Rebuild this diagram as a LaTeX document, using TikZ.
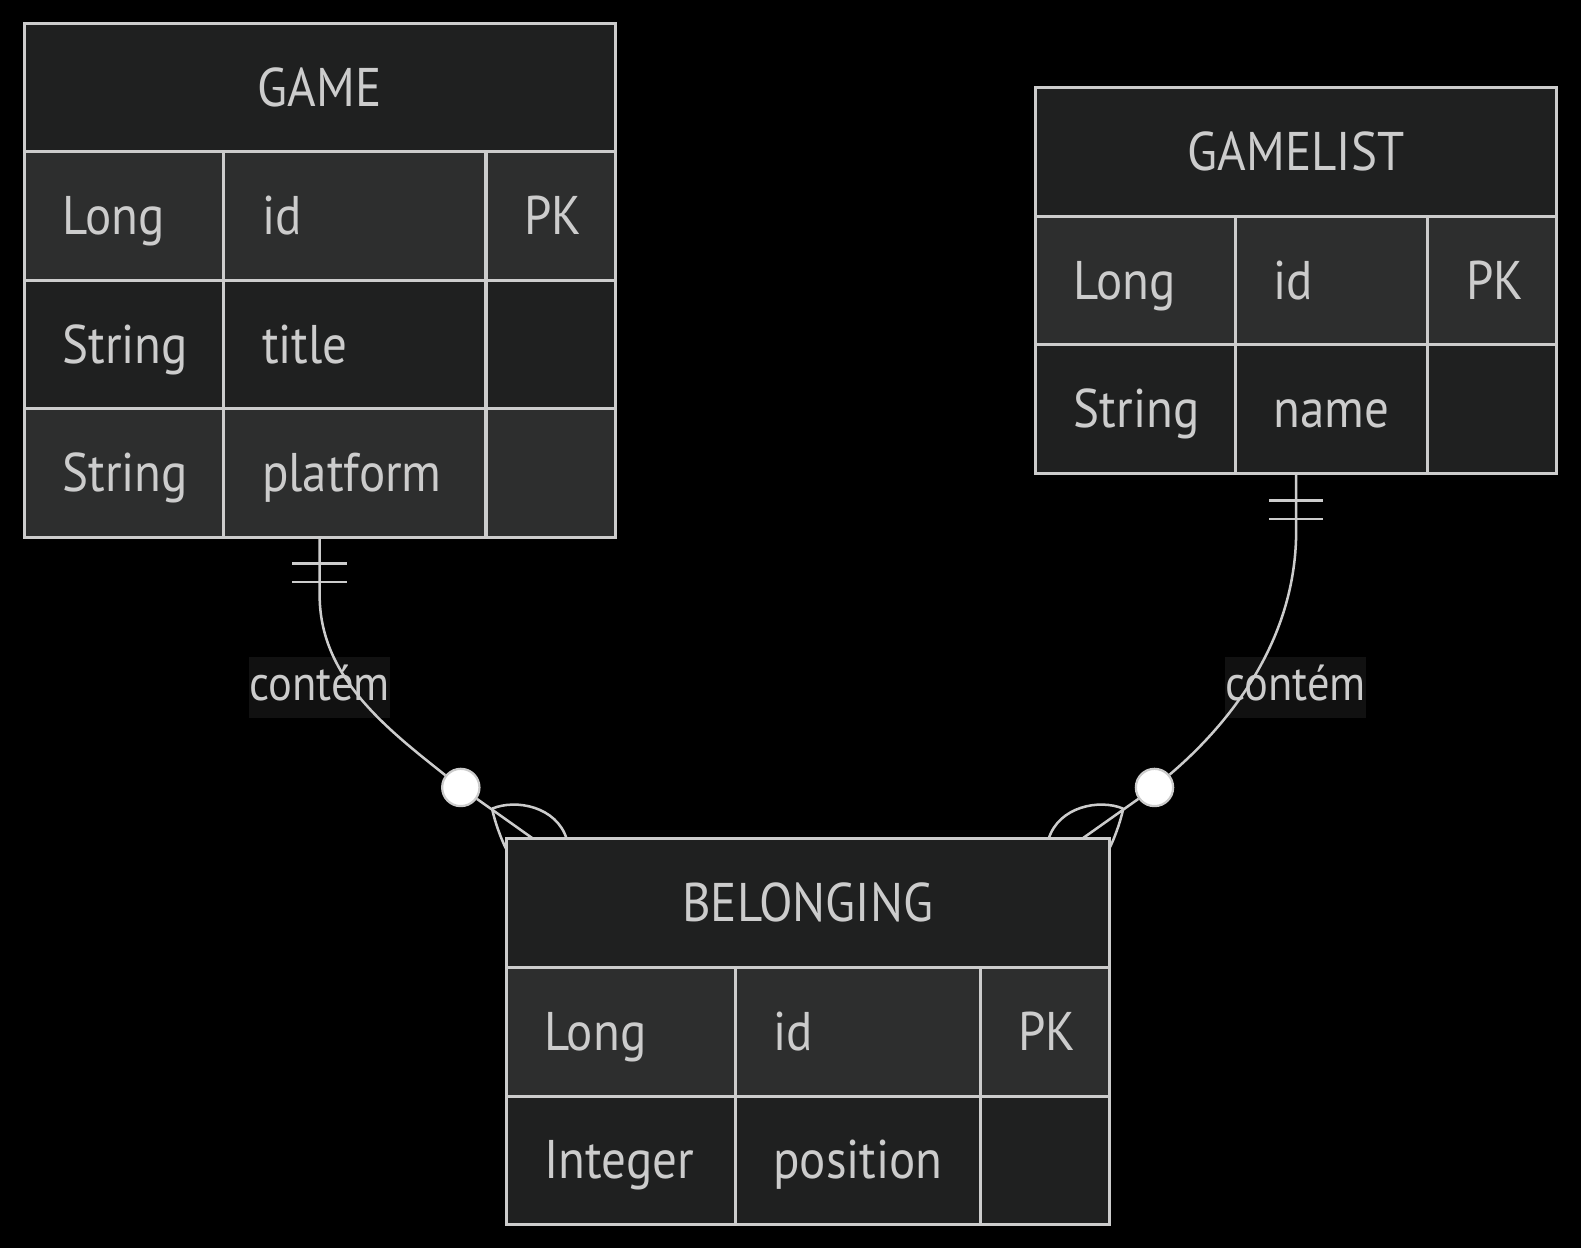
\documentclass[tikz,border=0pt]{standalone}
\usepackage{fontspec}
\setmainfont{PT Sans}[FakeStretch=0.9]
\usepackage{tikz}
\usetikzlibrary{positioning}
\definecolor{edgegray}{HTML}{CCCCCC}
\definecolor{headfill}{HTML}{1F2020}
\definecolor{lightfill}{HTML}{2D2E2E}
\definecolor{labelfill}{HTML}{111111}

\begin{document}
\begin{tikzpicture}[x=1pt,y=-1pt,line width=3pt,node distance=0pt,font=\fontsize{54}{60}\selectfont]
  \tikzstyle{entity}=[draw=edgegray,fill=headfill,text=edgegray,minimum height=127.5pt,inner sep=0pt,outer sep=0pt,text height=37pt,text depth=0pt]
  \tikzstyle{attr}=[draw=edgegray,text=edgegray,minimum height=127.5pt,inner xsep=38pt,inner ysep=0pt,outer sep=0pt,align=left,text height=37pt,text depth=0pt]
  \tikzstyle{rowlight}=[attr,fill=lightfill]
  \tikzstyle{rowdark}=[attr,fill=headfill]
  \tikzstyle{rel}=[draw=edgegray,line width=2.5pt]
  \tikzstyle{zero}=[circle,draw=edgegray,fill=white,minimum size=37pt,inner sep=0pt,line width=2.2pt]
  \tikzstyle{lbl}=[fill=labelfill,text=edgegray,inner sep=0pt,minimum height=61pt,text height=38pt,text depth=12pt,font=\fontsize{49}{56}\selectfont]

  \fill[black] (0,0) rectangle (1568,1238);
  \useasboundingbox (0,0) rectangle (1568,1238);

  % GAME
  \node[entity,minimum width=586pt,anchor=north west] (game) at (24,23) {GAME};
  \node[rowlight,text width=122pt,anchor=north west] (g1t) at (game.south west) {Long};
  \node[rowlight,text width=184pt,right=of g1t] (g1n) {id};
  \node[rowlight,text width=52pt,right=of g1n]  (g1k) {PK};
  \node[rowdark,text width=122pt,below=of g1t]  (g2t) {String};
  \node[rowdark,text width=184pt,right=of g2t]  (g2n) {title};
  \node[rowdark,text width=52pt,right=of g2n]   (g2k) {};
  \node[rowlight,text width=122pt,below=of g2t] (g3t) {String};
  \node[rowlight,text width=184pt,right=of g3t] (g3n) {platform};
  \node[rowlight,text width=52pt,right=of g3n]  (g3k) {};

  % GAMELIST
  \node[entity,minimum width=517pt,anchor=north west] (glist) at (1027,87) {GAMELIST};
  \node[rowlight,text width=122pt,anchor=north west] (l1t) at (glist.south west) {Long};
  \node[rowlight,text width=115pt,right=of l1t] (l1n) {id};
  \node[rowlight,text width=52pt,right=of l1n]  (l1k) {PK};
  \node[rowdark,text width=122pt,below=of l1t]  (l2t) {String};
  \node[rowdark,text width=115pt,right=of l2t]  (l2n) {name};
  \node[rowdark,text width=52pt,right=of l2n]   (l2k) {};

  % BELONGING
  \node[entity,minimum width=598pt,anchor=north west] (bel) at (502,832) {BELONGING};
  \node[rowlight,text width=151pt,anchor=north west] (b1t) at (bel.south west) {Long};
  \node[rowlight,text width=167pt,right=of b1t] (b1n) {id};
  \node[rowlight,text width=52pt,right=of b1n]  (b1k) {PK};
  \node[rowdark,text width=151pt,below=of b1t]  (b2t) {Integer};
  \node[rowdark,text width=167pt,right=of b2t]  (b2n) {position};
  \node[rowdark,text width=52pt,right=of b2n]   (b2k) {};

  % GAME ||--o{ BELONGING
  \coordinate (gbot) at (game.south |- g3n.south);
  \node[lbl] (c1l) at (317,682) {contém};
  \node[zero] (c1) at (457,781) {};
  \coordinate (f1) at (488,802);
  \draw[rel] (gbot) ++(-27,26) -- ++(54,0) ++(-54,18) -- ++(54,0);
  \draw[rel] (gbot) -- ++(0,57) .. controls +(0,80) and +(-77,-61) .. (c1);
  \draw[rel] (c1) -- ([xshift=27pt]bel.north west);
  \draw[rel] (f1) .. controls (512,792) and (552,800) .. ([xshift=60pt]bel.north west);
  \draw[rel] (f1) .. controls (491,816) and (497,832) .. ([yshift=-10pt]bel.north west);

  % GAMELIST ||--o{ BELONGING
  \coordinate (lbot) at (glist.south |- l2n.south);
  \node[lbl] (c2l) at (1285,682) {contém};
  \node[zero] (c2) at (1145,781) {};
  \coordinate (f2) at (1114,802);
  \draw[rel] (lbot) ++(-27,27) -- ++(54,0) ++(-54,18) -- ++(54,0);
  \draw[rel] (lbot) -- ++(0,57) .. controls +(0,120) and +(60,-51) .. (c2);
  \draw[rel] (c2) -- ([xshift=-27pt]bel.north east);
  \draw[rel] (f2) .. controls (1090,792) and (1050,800) .. ([xshift=-60pt]bel.north east);
  \draw[rel] (f2) .. controls (1111,816) and (1105,832) .. ([yshift=-10pt]bel.north east);
\end{tikzpicture}
\end{document}
